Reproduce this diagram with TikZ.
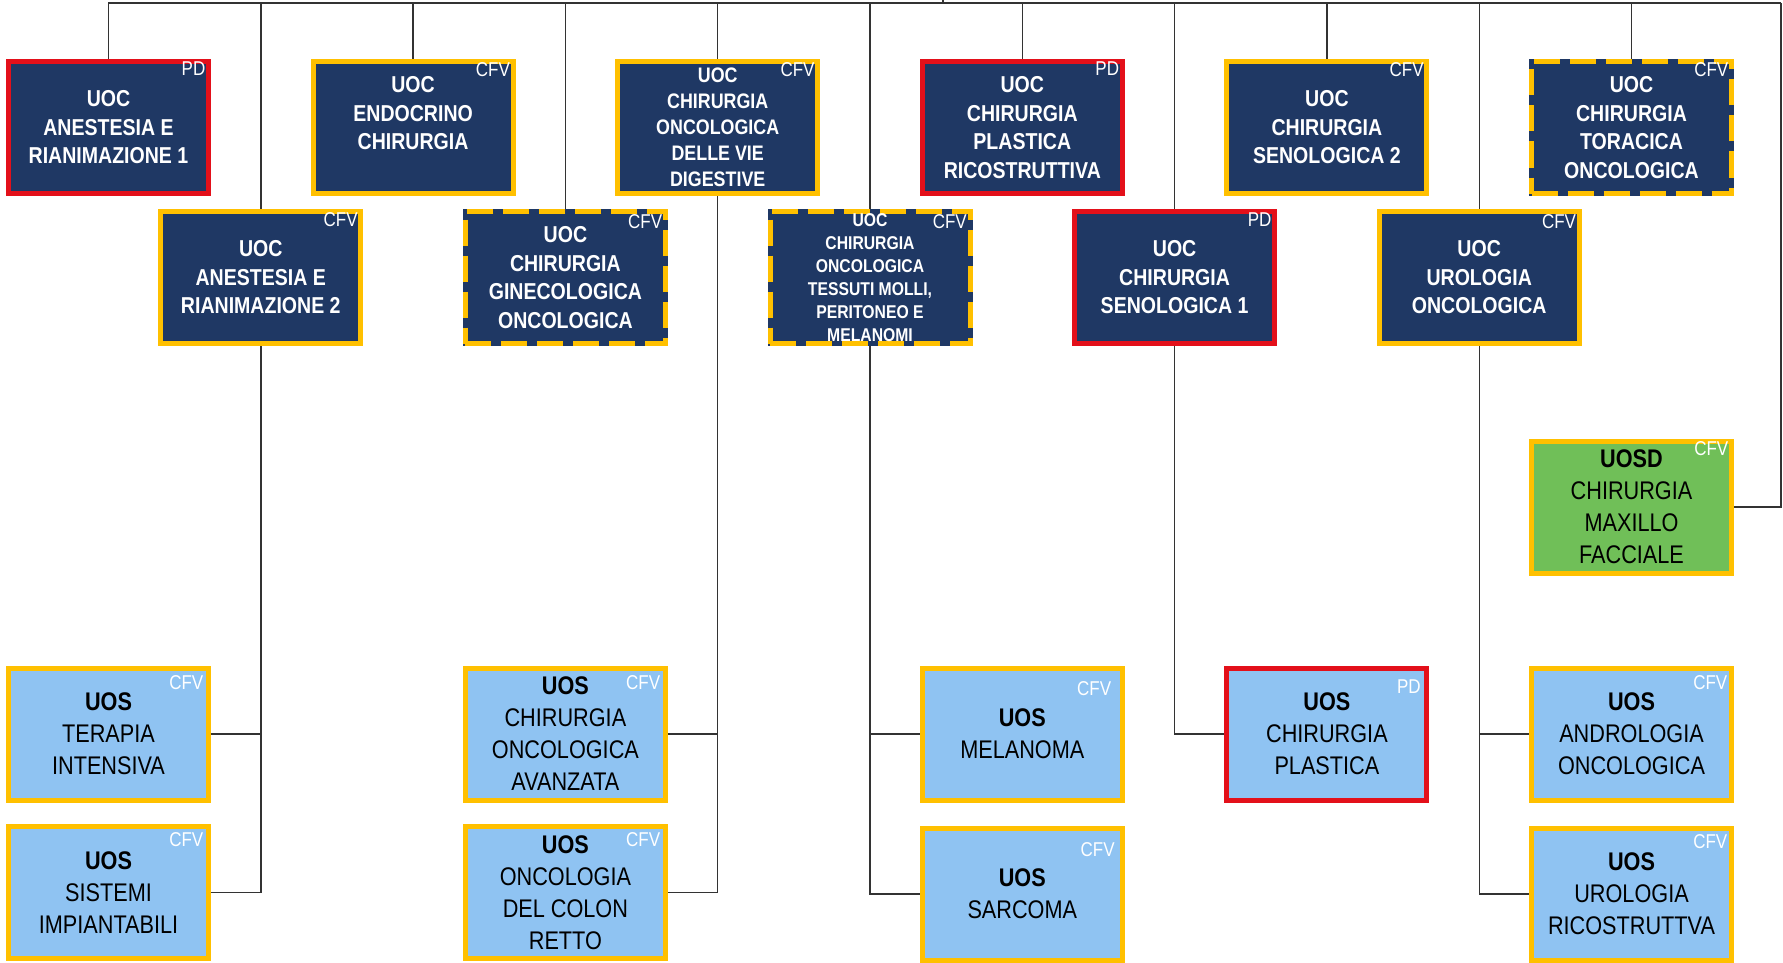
\documentclass[tikz,border=0pt]{standalone}
\usepackage{fontspec}
\setmainfont{Liberation Sans}[FakeStretch=0.85]
\definecolor{navy}{HTML}{1F3864}
\definecolor{gold}{HTML}{FFC000}
\definecolor{redb}{HTML}{E3101A}
\definecolor{lblue}{HTML}{8FC3F2}
\definecolor{lgreen}{HTML}{70BF58}
\definecolor{wirec}{HTML}{333333}
\pgfdeclarelayer{bg}
\pgfsetlayers{bg,main}
\begin{document}
\begin{tikzpicture}[x=1pt,y=-1pt,
  box/.style={rectangle, inner sep=0pt, minimum width=200pt, minimum height=132pt,
    line width=5pt, align=center},
  uoc/.style={box, fill=navy, text=white, font=\fontsize{23}{28.5}\selectfont\bfseries},
  uos/.style={box, fill=lblue, text=black, font=\fontsize{25.5}{32}\selectfont},
  uosd/.style={box, fill=lgreen, text=black, font=\fontsize{25.5}{32}\selectfont},
  cfv/.style={draw=gold},
  pd/.style={draw=redb},
  dashbox/.style={draw=navy, postaction={draw=gold, dash pattern=on 26pt off 10pt}},
  tag/.style={inner sep=0pt, anchor=north east, text=white, font=\fontsize{20}{20}\selectfont},
  wire/.style={draw=wirec, line width=1.4pt}
]
\useasboundingbox (0,0) rectangle (1783,963);

% ---- UOC, first row
\node[uoc, pd]  (b1)  at (108.5,127.5)  {UOC\\ANESTESIA E\\RIANIMAZIONE 1};
\node[uoc, cfv] (b3)  at (413.1,127.5)  {UOC\\ENDOCRINO\\CHIRURGIA\\\mbox{}};
\node[uoc, cfv, font=\fontsize{21}{26}\selectfont\bfseries]
                (b5)  at (717.7,127.5)  {UOC\\CHIRURGIA\\ONCOLOGICA\\DELLE VIE\\DIGESTIVE};
\node[uoc, pd]  (b7)  at (1022.3,127.5) {UOC\\CHIRURGIA\\PLASTICA\\RICOSTRUTTIVA};
\node[uoc, cfv] (b9)  at (1326.9,127.5) {UOC\\CHIRURGIA\\SENOLOGICA 2};
\node[uoc, dashbox] (b11) at (1631.5,127.5) {UOC\\CHIRURGIA\\TORACICA\\ONCOLOGICA};

% ---- UOC, second row
\node[uoc, cfv] (b2)  at (260.8,277.5)  {UOC\\ANESTESIA E\\RIANIMAZIONE 2};
\node[uoc, dashbox] (b4) at (565.4,277.5) {UOC\\CHIRURGIA\\GINECOLOGICA\\ONCOLOGICA};
\node[uoc, dashbox, font=\fontsize{18.5}{23}\selectfont\bfseries]
                (b6)  at (870,277.5)    {UOC\\CHIRURGIA\\ONCOLOGICA\\TESSUTI MOLLI,\\PERITONEO E\\MELANOMI};
\node[uoc, pd]  (b8)  at (1174.6,277.5) {UOC\\CHIRURGIA\\SENOLOGICA 1};
\node[uoc, cfv] (b10) at (1479.2,277.5) {UOC\\UROLOGIA\\ONCOLOGICA};

% ---- UOSD
\node[uosd, cfv] (d1) at (1631.5,507) {\textbf{UOSD}\\CHIRURGIA\\MAXILLO\\FACCIALE};

% ---- UOS
\node[uos, cfv] (s1) at (108.5,734)   {\textbf{UOS}\\TERAPIA\\INTENSIVA};
\node[uos, cfv] (s2) at (108.5,892.5) {\textbf{UOS}\\SISTEMI\\IMPIANTABILI};
\node[uos, cfv] (s3) at (565.4,734)   {\textbf{UOS}\\CHIRURGIA\\ONCOLOGICA\\AVANZATA};
\node[uos, cfv] (s4) at (565.4,892.5) {\textbf{UOS}\\ONCOLOGIA\\DEL COLON\\RETTO};
\node[uos, cfv] (s5) at (1022.3,734)  {\textbf{UOS}\\MELANOMA};
\node[uos, cfv] (s6) at (1022.3,894)  {\textbf{UOS}\\SARCOMA};
\node[uos, pd]  (s7) at (1326.9,734)  {\textbf{UOS}\\CHIRURGIA\\PLASTICA};
\node[uos, cfv] (s8) at (1631.5,734)  {\textbf{UOS}\\ANDROLOGIA\\ONCOLOGICA};
\node[uos, cfv] (s9) at (1631.5,894)  {\textbf{UOS}\\UROLOGIA\\RICOSTRUTTVA};

% ---- role tags
\node[tag] (b1t)  at ([xshift=-5.5pt,yshift=-3pt]b1.north east)  {PD};
\node[tag] (b3t)  at ([xshift=-5.5pt,yshift=-3pt]b3.north east)  {CFV};
\node[tag] (b5t)  at ([xshift=-5.5pt,yshift=-3pt]b5.north east)  {CFV};
\node[tag] (b7t)  at ([xshift=-5.5pt,yshift=-3pt]b7.north east)  {PD};
\node[tag] (b9t)  at ([xshift=-5.5pt,yshift=-3pt]b9.north east)  {CFV};
\node[tag] (b11t) at ([xshift=-5.5pt,yshift=-3pt]b11.north east) {CFV};
\node[tag] (b2t)  at ([xshift=-5.5pt,yshift=-3pt]b2.north east)  {CFV};
\node[tag] (b4t)  at ([xshift=-5.5pt,yshift=-5pt]b4.north east)  {CFV};
\node[tag] (b6t)  at ([xshift=-5.5pt,yshift=-5pt]b6.north east)  {CFV};
\node[tag] (b8t)  at ([xshift=-5.5pt,yshift=-4pt]b8.north east)  {PD};
\node[tag] (b10t) at ([xshift=-5.5pt,yshift=-5pt]b10.north east) {CFV};
\node[tag] (d1t)  at ([xshift=-5.5pt,yshift=-3pt]d1.north east)  {CFV};
\node[tag] (s1t)  at ([xshift=-7.5pt,yshift=-9.5pt]s1.north east)  {CFV};
\node[tag] (s2t)  at ([xshift=-7.5pt,yshift=-8.5pt]s2.north east)  {CFV};
\node[tag] (s3t)  at ([xshift=-7.5pt,yshift=-9.5pt]s3.north east)  {CFV};
\node[tag] (s4t)  at ([xshift=-7.5pt,yshift=-8.5pt]s4.north east)  {CFV};
\node[tag] (s5t)  at ([xshift=-13.5pt,yshift=-15.5pt]s5.north east) {CFV};
\node[tag] (s6t)  at ([xshift=-10pt,yshift=-16.5pt]s6.north east)  {CFV};
\node[tag] (s7t)  at ([xshift=-8.5pt,yshift=-14.5pt]s7.north east) {PD};
\node[tag] (s8t)  at ([xshift=-6.5pt,yshift=-9.5pt]s8.north east)  {CFV};
\node[tag] (s9t)  at ([xshift=-6.5pt,yshift=-8.5pt]s9.north east)  {CFV};

% ---- connectors, kept behind the boxes
\coordinate (root) at (943,0);
\coordinate (busR) at (1781,3);
\begin{pgfonlayer}{bg}
  \fill[white] (0,0) rectangle (1783,963);
  \draw[wire] (root) -- (root |- busR);
  \draw[wire] (b1.north) |- (busR);
  \draw[wire] (busR) |- (d1.east);
  \foreach \b in {b2,b3,b4,b5,b6,b7,b8,b9,b10,b11}
    \draw[wire] (\b.north) -- (\b.north |- busR);
  \draw[wire] (b2.south) |- (s1.east);
  \draw[wire] (b2.south) |- (s2.east);
  \draw[wire] (b5.south) |- (s3.east);
  \draw[wire] (b5.south) |- (s4.east);
  \draw[wire] (b6.south) |- (s5.west);
  \draw[wire] (b6.south) |- (s6.west);
  \draw[wire] (b8.south) |- (s7.west);
  \draw[wire] (b10.south) |- (s8.west);
  \draw[wire] (b10.south) |- (s9.west);
\end{pgfonlayer}
\end{tikzpicture}
\end{document}
